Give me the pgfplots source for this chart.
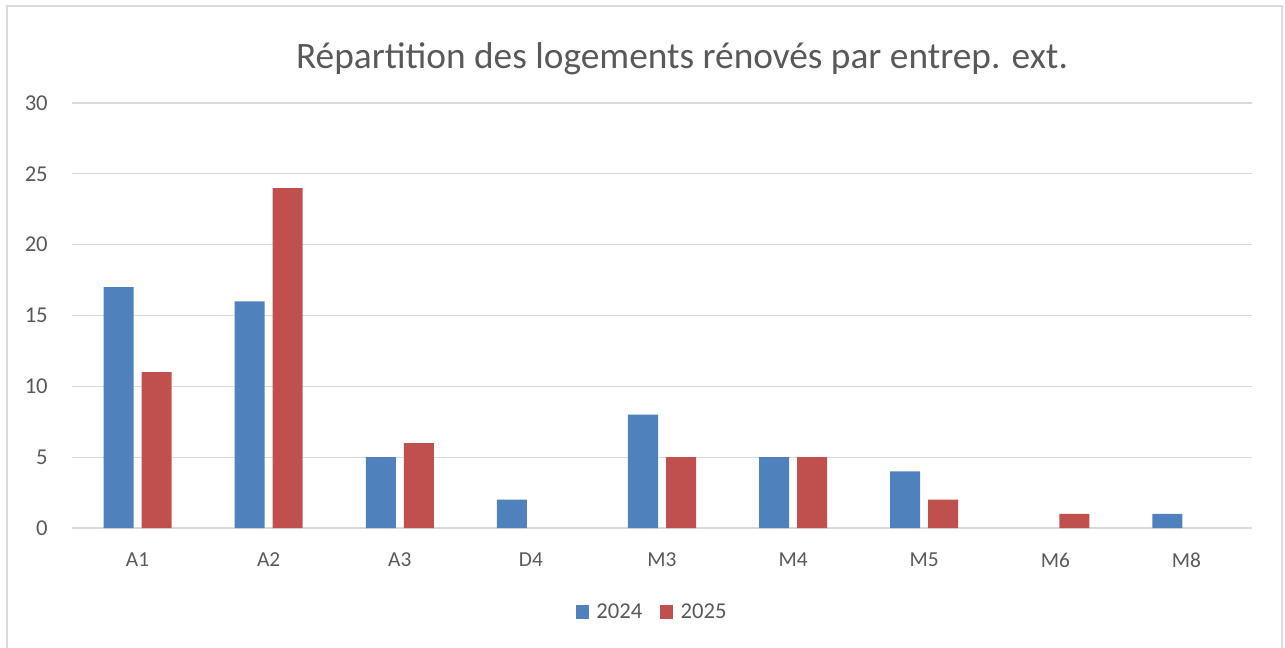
\documentclass[border=0pt]{standalone}
\usepackage{pgfplots}
\pgfplotsset{compat=1.18}
\usepackage{fontspec}
\setmainfont{Carlito}
\definecolor{cblue}{HTML}{4F81BD}
\definecolor{cred}{HTML}{C0504D}
\definecolor{ctext}{HTML}{595959}
\definecolor{cgrid}{HTML}{D9D9D9}
\begin{document}
\begin{tikzpicture}
\begin{axis}[
  scale only axis, width=885pt, height=318.75pt,
  xmin=-0.5, xmax=8.5, ymin=0, ymax=30,
  ybar=6pt, bar width=22.5pt,
  xtick={0,...,8}, xticklabels={A1,A2,A3,D4,M3,M4,M5,M6,M8},
  ytick={0,5,...,30},
  axis x line*=bottom, axis y line*=left,
  x axis line style={draw=cgrid, line width=0.8pt, -},
  y axis line style={draw=none},
  ymajorgrids, grid style={cgrid, line width=0.8pt},
  major tick length=0pt,
  tick label style={font=\fontsize{16}{18}\selectfont, text=ctext},
  /pgf/number format/assume math mode=true,
  xticklabel style={yshift=-15pt},
  yticklabel style={anchor=east, inner sep=0pt, xshift=-18pt, font=\fontsize{17}{19}\selectfont},
  legend style={at={(0.5,0)}, anchor=center, yshift=-63pt, xshift=-8pt, draw=none, fill=none,
    legend columns=2, font=\fontsize{17}{19}\selectfont, text=ctext,
    nodes={inner sep=0pt},
    /tikz/every odd column/.append style={column sep=5.5pt},
    /tikz/every even column/.append style={column sep=13.5pt}},
  legend image code/.code={\fill[#1] (0pt,-4.9pt) rectangle (9.75pt,4.9pt);},
]
\addplot[fill=cblue, draw=none] coordinates {(0,17) (1,16) (2,5) (3,2) (4,8) (5,5) (6,4) (8,1)};
\addplot[fill=cred, draw=none] coordinates {(0,11) (1,24) (2,6) (4,5) (5,5) (6,2) (7,1)};
\legend{2024,2025}
\coordinate (SW) at (rel axis cs:0,0);
\end{axis}
\begin{scope}[shift={(SW)}, x=0.75pt, y=0.75pt, shift={(-72,-119)}]
\draw[cgrid, line width=1.2pt] (7,-20) -- (7,641) -- (1282,641) -- (1282,-20);
\node[text=ctext, font=\fontsize{28}{32}\selectfont, anchor=base] at (682,578) {Répartition des logements rénovés par entrep. ext.};
\end{scope}
\pgfresetboundingbox
\path[use as bounding box] (SW) ++(-54pt,-89.25pt) rectangle ++(963.75pt,485.25pt);
\end{tikzpicture}
\end{document}
